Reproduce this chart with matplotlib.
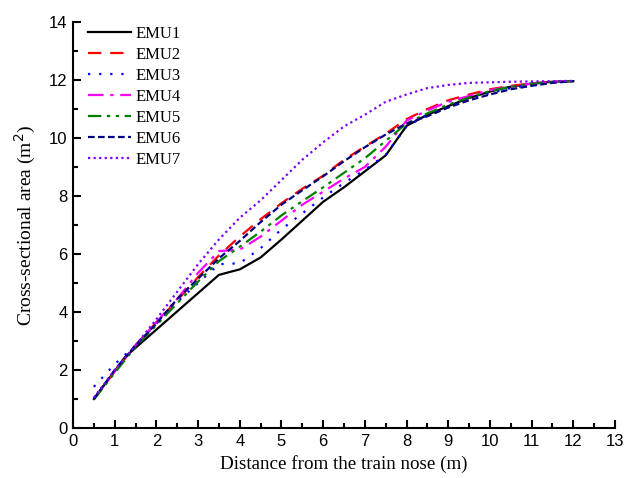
import numpy as np
import matplotlib.pyplot as plt
from matplotlib.ticker import MultipleLocator

# Данные
x1 = [0.5, 1.25, 3.5, 4.0, 4.5, 5.0, 5.5, 6.0, 6.5, 7.0, 7.5, 8.0, 8.5, 9.0, 9.5, 10.0, 10.5, 11.0, 11.5, 12.0]
emu1 = [1.0, 2.45, 5.28, 5.47, 5.88, 6.5, 7.15, 7.8, 8.3, 8.85, 9.4, 10.42, 10.8, 11.1, 11.38, 11.6, 11.77, 11.88, 11.94, 11.96]

x = [0.5, 1.0, 1.5, 2.0, 2.5, 3.0, 3.5, 4.0, 4.5, 5.0, 5.5, 6.0, 6.5, 7.0, 7.5, 8.0, 8.5, 9.0, 9.5, 10.0, 10.5, 11.0, 11.5, 12.0]
emu2 = [1.0, 1.95, 2.85, 3.65, 4.4, 5.2, 5.95, 6.6, 7.2, 7.75, 8.25, 8.7, 9.25, 9.7, 10.15, 10.65, 11.0, 11.3, 11.5, 11.68, 11.8, 11.88, 11.93, 11.96]
emu3 = [1.42, 2.2, 2.85, 3.6, 4.35, 5.0, 5.65, 5.68, 6.2, 6.85, 7.4, 7.95, 8.45, 8.9, 9.42, 10.4, 10.8, 11.08, 11.35, 11.55, 11.72, 11.85, 11.92, 11.96]
emu4 = [1.0, 1.95, 2.85, 3.65, 4.45, 5.35, 6.1, 6.15, 6.6, 7.15, 7.7, 8.15, 8.6, 9.0, 9.7, 10.6, 10.95, 11.25, 11.45, 11.65, 11.78, 11.87, 11.93, 11.96]
emu5 = [0.98, 1.9, 2.8, 3.55, 4.3, 5.05, 5.75, 6.25, 6.77, 7.33, 7.82, 8.3, 8.8, 9.3, 9.9, 10.5, 10.85, 11.15, 11.4, 11.62, 11.77, 11.87, 11.93, 11.96]
emu6 = [1.0, 2.0, 2.85, 3.6, 4.45, 5.15, 5.85, 6.45, 7.1, 7.7, 8.2, 8.68, 9.2, 9.68, 10.12, 10.5, 10.75, 11.05, 11.3, 11.5, 11.68, 11.8, 11.9, 11.96]
emu7 = [1.05, 2.0, 2.85, 3.75, 4.7, 5.65, 6.5, 7.25, 7.85, 8.55, 9.25, 9.85, 10.4, 10.8, 11.25, 11.5, 11.72, 11.83, 11.9, 11.92, 11.94, 11.95, 11.96, 11.97]

labels = ['EMU1', 'EMU2', 'EMU3', 'EMU4', 'EMU5', 'EMU6', 'EMU7']

fig = plt.figure(figsize=(6.27, 4.78), dpi=100)
ax = fig.add_axes([73 / 627, 50 / 478, 542 / 627, 406 / 478])

lw = 1.6
ax.plot(x1, emu1, color='black', lw=lw, ls='-', label=labels[0])
ax.plot(x, emu2, color='#FF0000', lw=lw, ls=(0, (6, 4)), label=labels[1])
ax.plot(x, emu3, color='#0000FF', lw=lw, ls=(0, (1, 4)), label=labels[2])
ax.plot(x, emu4, color='#FF00FF', lw=lw, ls=(0, (7, 3, 1.5, 3)), label=labels[3])
ax.plot(x, emu5, color='#008000', lw=lw, ls=(0, (6, 2.5, 1.5, 2.5, 1.5, 2.5)), label=labels[4])
ax.plot(x, emu6, color='#000080', lw=lw, ls=(0, (3, 1.5)), label=labels[5])
ax.plot(x, emu7, color='#8000FF', lw=lw, ls=(0, (1, 1.5)), label=labels[6])

ax.set_xlim(0, 13)
ax.set_ylim(0, 14)
ax.xaxis.set_major_locator(MultipleLocator(1))
ax.xaxis.set_minor_locator(MultipleLocator(0.5))
ax.yaxis.set_major_locator(MultipleLocator(2))
ax.yaxis.set_minor_locator(MultipleLocator(1))

for s in ['top', 'right']:
    ax.spines[s].set_visible(False)
for s in ['left', 'bottom']:
    ax.spines[s].set_linewidth(1.5)

ax.tick_params(which='major', direction='in', length=6, width=1.5, labelsize=12, pad=4)
ax.tick_params(which='minor', direction='in', length=3.5, width=1.5)
for t in ax.get_xticklabels() + ax.get_yticklabels():
    t.set_fontfamily('Liberation Sans')

ax.set_xlabel('Distance from the train nose (m)', fontsize=13.7, family='Liberation Serif', labelpad=5)
ax.set_ylabel('Cross-sectional area (m$^2$)', fontsize=14, family='Liberation Serif', labelpad=8)

leg = ax.legend(loc='upper left', bbox_to_anchor=(0.027, 0.99), frameon=False,
                prop={'family': 'Liberation Serif', 'size': 12},
                handlelength=2.6, handletextpad=0.25, labelspacing=0.3, borderpad=0, borderaxespad=0)

fig.savefig('out.png', dpi=100)
